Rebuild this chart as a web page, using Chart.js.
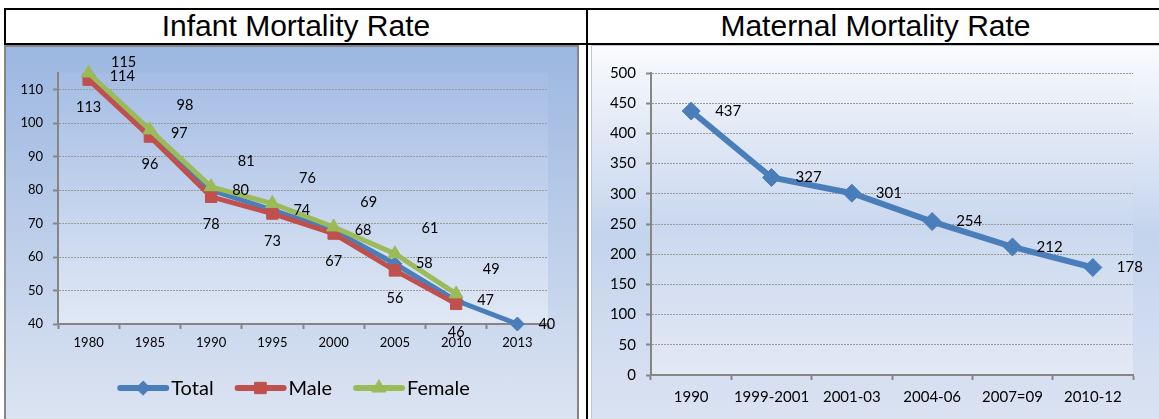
<!DOCTYPE html>
<html>
<head>
<meta charset="utf-8">
<script src="https://cdn.jsdelivr.net/npm/chart.js@4.4.1/dist/chart.umd.min.js"></script>
<style>
  html, body { margin: 0; padding: 0; background: #fff; overflow: hidden; width: 1159px; height: 419px; }
  .rule { position: absolute; background: #000; }
  .title { position: absolute; top: 9px; height: 34px; line-height: 34px; text-align: center;
           font-family: "Liberation Sans", Arial, sans-serif; font-size: 30px; color: #000; white-space: nowrap; }
  .panel { position: absolute; top: 45px; box-sizing: border-box; overflow: hidden; }
  #leftPanel { left: 4px; width: 575px; height: 380px; border: 2px solid #858585;
               background: linear-gradient(#9cb7e1 0px, #dce4f2 374px); }
  #rightPanel { left: 591px; width: 580px; height: 380px; border: 1px solid #c4c8cf;
                background: linear-gradient(#fafbfe 0%, #c4d4ee 50%, #dbe3f2 100%); }
  canvas { position: absolute; left: 0; top: 0; }
</style>
</head>
<body>
<div class="rule" style="left:4px;top:8px;width:1160px;height:2px"></div>
<div class="rule" style="left:4px;top:8px;width:2px;height:37px"></div>
<div class="rule" style="left:4px;top:43px;width:1160px;height:2px"></div>
<div class="rule" style="left:586px;top:8px;width:2px;height:411px"></div>
<div class="title" style="left:6px;width:580px">Infant Mortality Rate</div>
<div class="title" style="left:588px;width:575px">Maternal Mortality Rate</div>
<div id="leftPanel" class="panel"><canvas id="imr" width="571" height="376"></canvas></div>
<div id="rightPanel" class="panel"><canvas id="mmr" width="578" height="378"></canvas></div>

<script>
// Infant mortality rate (per 1000 live births)
const years = ['1980', '1985', '1990', '1995', '2000', '2005', '2010', '2013'];
const imrTotal = [114, 97, 80, 74, 68, 58, 47, 40];
const imrMale = [113, 96, 78, 73, 67, 56, 46, null];
const imrFemale = [115, 98, 81, 76, 69, 61, 49, null];
const imrRange = [40, 115];
const imrStep = 10;

// Maternal mortality rate (per 100000 live births)
const periods = ['1990', '1999-2001', '2001-03', '2004-06', '2007=09', '2010-12'];
const mmrValues = [437, 327, 301, 254, 212, 178];
const mmrRange = [0, 500];
const mmrStep = 50;

const BLUE = '#4a7ebb';
const RED = '#c0504d';
const GREEN = '#9bbb59';
const AXIS = '#868686';
const GRID = '#9a9a9a';
const FONT = 'Lato, "Open Sans", sans-serif';

// Gradient fill behind the plot area
const plotBackground = {
  id: 'plotBackground',
  beforeDraw(chart, args, opts) {
    const { ctx, chartArea: a } = chart;
    const g = ctx.createLinearGradient(0, a.top, 0, a.bottom);
    opts.stops.forEach(s => g.addColorStop(s[0], s[1]));
    ctx.save();
    ctx.fillStyle = g;
    ctx.fillRect(a.left, a.top, a.right - a.left, a.bottom - a.top);
    ctx.restore();
  }
};

// Value labels next to each point, placed per series
const valueLabels = {
  id: 'valueLabels',
  afterDatasetsDraw(chart, args, opts) {
    const { ctx, chartArea: a } = chart;
    ctx.save();
    ctx.font = opts.font;
    ctx.fillStyle = '#000';
    ctx.textBaseline = 'middle';
    chart.data.datasets.forEach((ds, i) => {
      const place = ds.labelPlace;
      chart.getDatasetMeta(i).data.forEach((pt, j) => {
        const v = ds.data[j];
        if (v == null) return;
        ctx.textAlign = place.align;
        let y = pt.y + place.dy;
        if (place.minTop != null) y = Math.max(y, a.top + place.minTop);
        ctx.fillText(String(v), pt.x + place.dx, y);
      });
    });
    ctx.restore();
  }
};

// Legend showing a line segment with the series marker
const lineLegend = {
  id: 'lineLegend',
  afterDraw(chart, args, opts) {
    if (!opts.show) return;
    const ctx = chart.ctx;
    ctx.save();
    ctx.font = opts.font;
    ctx.textBaseline = 'middle';
    ctx.textAlign = 'left';
    const items = chart.data.datasets.map(ds => ({ ds, w: ctx.measureText(ds.label).width }));
    const total = items.reduce((s, it) => s + opts.lineLen + opts.textGap + it.w, 0) + opts.itemGap * (items.length - 1);
    let x = chart.width / 2 + opts.shift - total / 2;
    const y = opts.y;
    items.forEach(it => {
      const ds = it.ds;
      ctx.strokeStyle = ds.borderColor;
      ctx.fillStyle = ds.backgroundColor;
      ctx.lineWidth = ds.borderWidth + 1;
      ctx.lineCap = 'round';
      ctx.beginPath();
      ctx.moveTo(x + 3, y);
      ctx.lineTo(x + opts.lineLen - 3, y);
      ctx.stroke();
      ctx.lineWidth = 1;
      Chart.helpers.drawPoint(ctx, { pointStyle: ds.pointStyle, radius: ds.pointRadius, rotation: 0, borderWidth: 1 },
        x + opts.lineLen / 2, y);
      ctx.fillStyle = '#000';
      ctx.fillText(ds.label, x + opts.lineLen + opts.textGap, y + 1);
      x += opts.lineLen + opts.textGap + it.w + opts.itemGap;
    });
    ctx.restore();
  }
};

function series(label, data, color, style, radius, width, order, labelPlace) {
  return {
    label, data, order, labelPlace,
    borderColor: color, backgroundColor: color,
    pointBackgroundColor: color, pointBorderColor: color,
    pointStyle: style, pointRadius: radius, pointBorderWidth: 1,
    borderWidth: width, tension: 0, clip: false
  };
}

function valueAxis(range, step, size, width) {
  return {
    min: range[0], max: range[1],
    ticks: { stepSize: step, includeBounds: false, color: '#000', padding: 10, font: { family: FONT, size } },
    grid: { color: GRID, lineWidth: 1, tickColor: AXIS, tickWidth: 2, tickLength: 5 },
    border: { color: AXIS, width: 2, dash: [2, 1] },
    afterFit: s => { s.width = width; }
  };
}

function categoryAxis(size, pad, height) {
  return {
    offset: true,
    ticks: { color: '#000', padding: pad, autoSkip: false, maxRotation: 0, font: { family: FONT, size } },
    grid: { offset: true, drawOnChartArea: false, tickColor: AXIS, tickWidth: 2, tickLength: 5 },
    border: { color: AXIS, width: 2 },
    afterFit: s => { s.height = height; }
  };
}

new Chart(document.getElementById('imr'), {
  type: 'line',
  data: {
    labels: years,
    datasets: [
      series('Total', imrTotal, BLUE, 'rectRot', 7, 5, 2, { align: 'left', dx: 21, dy: 0 }),
      series('Male', imrMale, RED, 'rect', 8, 5, 1, { align: 'center', dx: 0, dy: 28 }),
      series('Female', imrFemale, GREEN, 'triangle', 8, 5, 0, { align: 'center', dx: 35, dy: -25, minTop: -11 })
    ]
  },
  options: {
    responsive: false, animation: false, events: [],
    layout: { padding: { top: 26, right: 29, bottom: 64, left: 0 } },
    plugins: {
      legend: { display: false }, tooltip: { enabled: false },
      plotBackground: { stops: [[0, '#a5bde4'], [1, '#e0e8f5']] },
      valueLabels: { font: '14.5px ' + FONT },
      lineLegend: { show: true, font: '20px ' + FONT, y: 341, lineLen: 52, textGap: 2, itemGap: 21, shift: 2 }
    },
    scales: {
      x: categoryAxis(13, 6, 35),
      y: valueAxis(imrRange, imrStep, 13, 52)
    }
  },
  plugins: [plotBackground, valueLabels, lineLegend]
});

new Chart(document.getElementById('mmr'), {
  type: 'line',
  data: {
    labels: periods,
    datasets: [
      series('MMR', mmrValues, BLUE, 'rectRot', 9, 6, 0, { align: 'left', dx: 24, dy: 0 })
    ]
  },
  options: {
    responsive: false, animation: false, events: [],
    layout: { padding: { top: 27, right: 37, bottom: 9, left: 0 } },
    plugins: {
      legend: { display: false }, tooltip: { enabled: false },
      plotBackground: { stops: [[0, '#f1f4fa'], [0.5, '#cad8ef'], [1, '#e3e9f5']] },
      valueLabels: { font: '15px ' + FONT },
      lineLegend: { show: false }
    },
    scales: {
      x: categoryAxis(15, 8, 40),
      y: valueAxis(mmrRange, mmrStep, 15, 59)
    }
  },
  plugins: [plotBackground, valueLabels, lineLegend]
});
</script>
</body>
</html>
